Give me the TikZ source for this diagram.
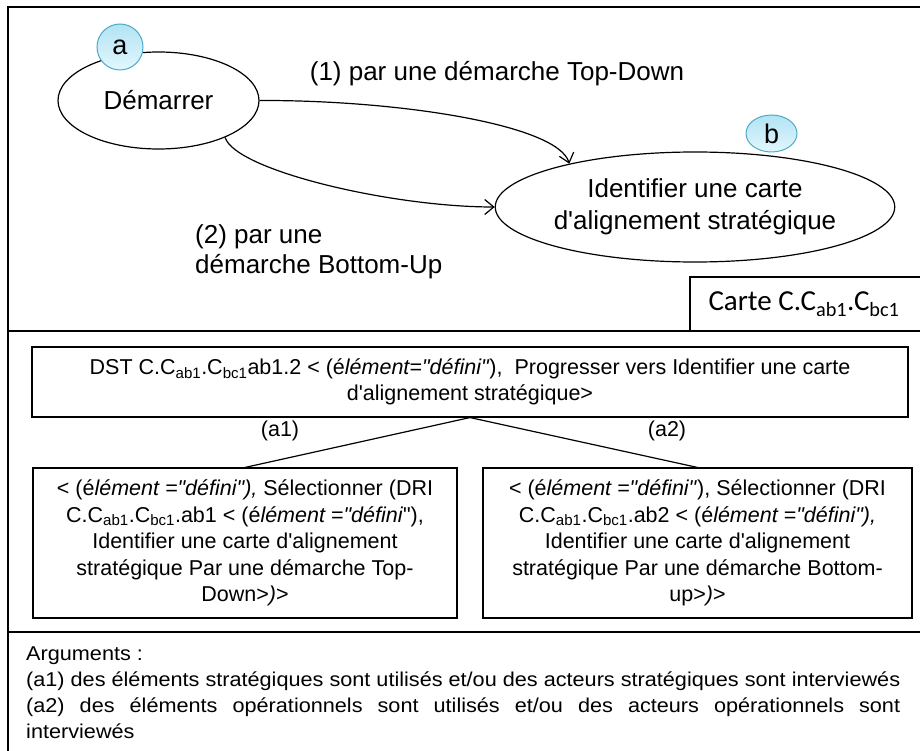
\documentclass[tikz,border=0pt]{standalone}
\usepackage{fontspec}
\setmainfont{Liberation Sans}
\newfontfamily\carlito{Carlito}
\usepackage{graphicx}
\usetikzlibrary{shapes.geometric,arrows.meta}
\definecolor{cborder}{RGB}{75,172,198}
\definecolor{ctop}{RGB}{178,227,244}
\definecolor{cbot}{RGB}{226,247,253}
\newlength\argw
\newcommand\q{\textquotesingle}
\newcommand\qq{\textquotedbl}
\newcommand\argfont{\fontsize{20}{24}\selectfont}
\begin{document}
\settowidth\argw{\argfont (a1) des \'el\'ements strat\'egiques sont utilis\'es et/ou des acteurs strat\'egiques sont interview\'es}%
\pgfmathsetmacro\argsc{874/\argw}%
\begin{tikzpicture}[x=1pt,y=-1pt,
  statenode/.style={ellipse, draw, line width=1.2pt, font=\fontsize{26}{32}\selectfont, align=center, inner sep=0pt},
  tagnode/.style={ellipse, draw=cborder, line width=1pt, top color=ctop, bottom color=cbot, font=\fontsize{27}{30}\selectfont, inner sep=0pt},
  boxnode/.style={draw, line width=1.1pt, align=center, font=\fontsize{21.5}{26.5}\selectfont, inner sep=0pt},
  lblnode/.style={font=\fontsize{26}{30}\selectfont, align=left, inner sep=0pt},
  smalllbl/.style={font=\fontsize{21.5}{26}\selectfont, inner sep=0pt},
  argnode/.style={anchor=base west, inner sep=0pt, font=\argfont},
  framelines/.style={line width=2pt},
  arr/.style={line width=1.2pt, -{Straight Barb[length=9pt,width=15pt]}}]
\clip (0,0) rectangle (920,751);
% frame
\draw[framelines] (8,760) -- (8,7) -- (930,7);
\draw[framelines] (8,331) -- (930,331);
\draw[framelines] (8,632) -- (930,632);
\draw[line width=1.3pt] (690,331) -- (690,277) -- (930,277);
\node[inner sep=0pt, font=\carlito\fontsize{29}{32}\selectfont] (carte) at (804,304) {Carte C.C\textsubscript{ab1}.C\textsubscript{bc1}};
% states
\node[statenode, minimum width=201, minimum height=97] (dem) at (158.5,100.5) {D\'emarrer};
\node[tagnode, minimum width=46, minimum height=46] (taga) at (120,47) {a};
\node[statenode, minimum width=350, minimum height=110] (idb) at (695,207) {Identifier une carte\\d\q alignement strat\'egique};
\node[tagnode, minimum width=51, minimum height=37] (tagb) at (771.5,133.5) {b};
% arrows
\draw[arr] (dem.east) .. controls (400,100) and (558,125) .. (idb.161);
\draw[arr] (dem.-29) .. controls (235,170) and (390,207) .. (idb.west);
\node[lblnode] (l1) at (497,74) {(1) par une d\'emarche Top-Down};
\node[lblnode, anchor=west] (l2) at (195,252) {(2) par une\\d\'emarche Bottom-Up};
% tree
\node[boxnode, minimum width=876, minimum height=70] (dst) at (470,382)
 {DST C.C\textsubscript{ab1}.C\textsubscript{bc1}ab1.2 < (\'e\textit{l\'ement=\qq d\'efini\qq}),~ Progresser vers Identifier une carte\\d\q alignement strat\'egique>};
\node[boxnode, minimum width=424, minimum height=150] (lb) at (245,543)
 {< (\'e\textit{l\'ement =\qq d\'efini\qq),} S\'electionner (DRI\\
  C.C\textsubscript{ab1}.C\textsubscript{bc1}.ab1 < (\'e\textit{l\'ement =\qq d\'efini}\qq),\\
  Identifier une carte d\q alignement\\
  strat\'egique Par une d\'emarche Top-\\
  Down>\textit{)}>};
\node[boxnode, minimum width=429, minimum height=150] (rb) at (697.5,543)
 {< (\'e\textit{l\'ement =\qq d\'efini\qq}), S\'electionner (DRI\\
  C.C\textsubscript{ab1}.C\textsubscript{bc1}.ab2 < (\'e\textit{l\'ement =\qq d\'efini\qq),}\\
  Identifier une carte d\q alignement\\
  strat\'egique Par une d\'emarche Bottom-\\
  up>\textit{)}>};
\draw[line width=1.2pt] (dst.south) -- (lb.north);
\draw[line width=1.2pt] (dst.south) -- (rb.north);
\node[smalllbl] (a1) at (280,431) {(a1)};
\node[smalllbl] (a2) at (667,431) {(a2)};
% arguments
\node[argnode] (g0) at (26,660) {\scalebox{\argsc}[1]{Arguments :}};
\node[argnode] (g1) at (26,686) {\scalebox{\argsc}[1]{(a1) des \'el\'ements strat\'egiques sont utilis\'es et/ou des acteurs strat\'egiques sont interview\'es}};
\node[argnode] (g2) at (26,712) {\scalebox{\argsc}[1]{\makebox[\argw][s]{(a2) des \'el\'ements op\'erationnels sont utilis\'es et/ou des acteurs op\'erationnels sont}}};
\node[argnode] (g3) at (26,738) {\scalebox{\argsc}[1]{interview\'es}};
\end{tikzpicture}
\end{document}
